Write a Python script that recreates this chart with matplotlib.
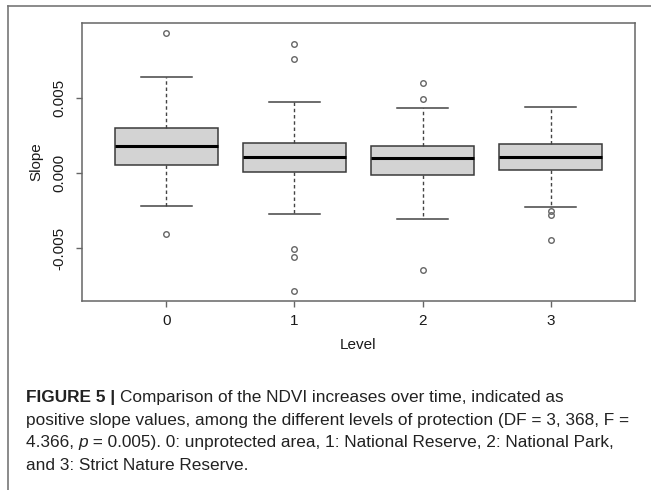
import matplotlib
matplotlib.use("Agg")
import matplotlib.pyplot as plt
from matplotlib.lines import Line2D

plt.rcParams['font.family'] = ['Liberation Sans', 'DejaVu Sans']

# values (slope of NDVI by protection level)
levels = ['0', '1', '2', '3']
medians = [0.00177, 0.00105, 0.00100, 0.00105]
q1s = [0.00052, 0.00009, -0.00015, 0.00020]
q3s = [0.00301, 0.00203, 0.00177, 0.00190]
whis_lo = [-0.00221, -0.00274, -0.00308, -0.00228]
whis_hi = [0.00641, 0.00473, 0.00433, 0.00438]
outliers = [
    [0.00930, -0.00408],
    [0.00861, 0.00756, -0.00504, -0.00556, -0.00783],
    [0.00596, 0.00495, -0.00645],
    [-0.00250, -0.00278, -0.00448],
]

W, H = 651, 490
fig = plt.figure(figsize=(W / 100, H / 100), dpi=100)

def px(x, y):
    return x / W, 1 - y / H

# outer frame of the figure panel
fig.add_artist(Line2D([8 / W, 8 / W], [0, 1 - 6 / H], color='#777777', lw=1.2,
                      transform=fig.transFigure))
fig.add_artist(Line2D([8 / W, 1], [1 - 6 / H, 1 - 6 / H], color='#777777', lw=1.2,
                      transform=fig.transFigure))

ax = fig.add_axes([82 / W, 1 - 301 / H, (635 - 82) / W, (301 - 23) / H])

stats = []
for i in range(len(levels)):
    stats.append(dict(med=medians[i], q1=q1s[i], q3=q3s[i],
                      whislo=whis_lo[i], whishi=whis_hi[i], fliers=outliers[i]))

pos = list(range(1, len(levels) + 1))
ax.bxp(stats, positions=pos, widths=0.8, capwidths=0.4, patch_artist=True,
       boxprops=dict(facecolor='#d3d3d3', edgecolor='#3a3a3a', lw=1.1),
       medianprops=dict(color='black', lw=2.2),
       whiskerprops=dict(color='#444444', lw=1.0, linestyle=(0, (2.5, 2))),
       capprops=dict(color='#444444', lw=1.1),
       flierprops=dict(marker='o', mfc='none', mec='#666666', ms=4, mew=1.0))

allv = [v for s in stats for v in [s['whislo'], s['whishi']] + list(s['fliers'])]
lo, hi = min(allv), max(allv)
rng = hi - lo
ax.set_ylim(lo - 0.04 * rng, hi + 0.04 * rng)
ax.set_xlim(0.5 - 0.04 * 4, 4.5 + 0.04 * 4)

ax.set_xticks(pos)
ax.set_xticklabels(levels)
ax.set_yticks([-0.005, 0.0, 0.005])
ax.set_yticklabels(['-0.005', '0.000', '0.005'], rotation=90, va='center')

for sp in ax.spines.values():
    sp.set_color('#666666')
    sp.set_linewidth(1.1)
ax.tick_params(axis='both', direction='out', length=4, width=1, color='#666666',
               labelsize=11, labelcolor='#1a1a1a')
ax.tick_params(axis='x', pad=5)
ax.tick_params(axis='y', pad=7)

fig.text(*px(36, 162), 'Slope', rotation=90, ha='center', va='center', fontsize=11,
         color='#1a1a1a')
fig.text(*px(358, 345), 'Level', ha='center', va='center', fontsize=11, color='#1a1a1a')

# caption
cap_lines = [
    [('FIGURE 5 | ', 'bold', 'normal'),
     ('Comparison of the NDVI increases over time, indicated as', 'normal', 'normal')],
    [('positive slope values, among the different levels of protection (DF = 3, 368, F =',
      'normal', 'normal')],
    [('4.366, ', 'normal', 'normal'), ('p', 'normal', 'italic'),
     (' = 0.005). 0: unprotected area, 1: National Reserve, 2: National Park,',
      'normal', 'normal')],
    [('and 3: Strict Nature Reserve.', 'normal', 'normal')],
]
baselines = [402, 424.5, 447, 470]

fig.canvas.draw()
r = fig.canvas.get_renderer()
for runs, yb in zip(cap_lines, baselines):
    x = 26
    for s, wt, st in runs:
        t = fig.text(*px(x, yb), s, fontsize=12.4, fontweight=wt, fontstyle=st,
                     va='baseline', ha='left', color='#222222')
        bb = t.get_window_extent(renderer=r)
        x += bb.width

fig.savefig('out.png', dpi=100)
